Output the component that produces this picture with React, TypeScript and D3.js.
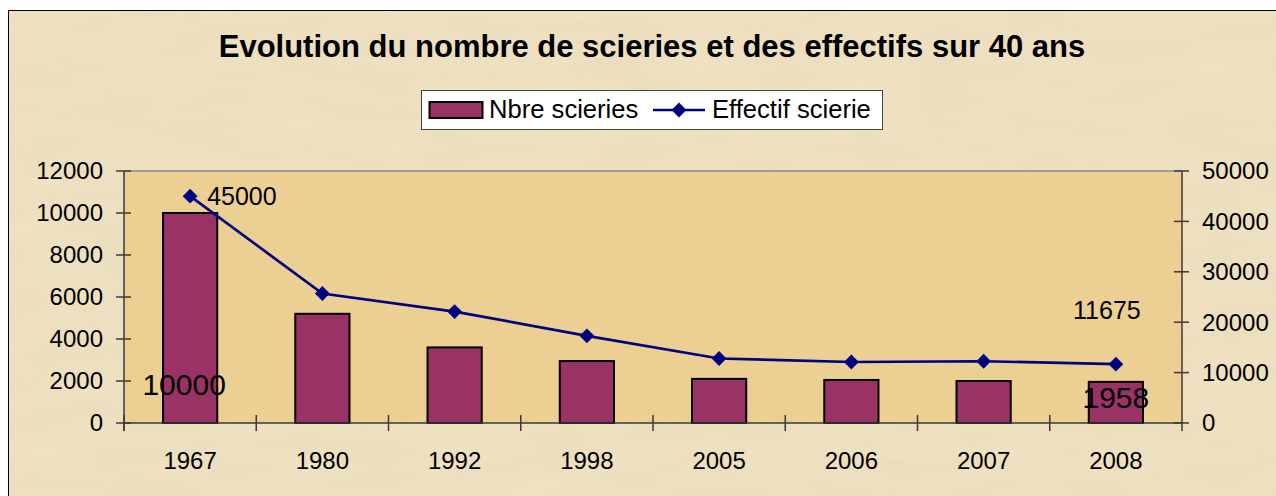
import { scaleLinear, scaleBand, line, symbol, symbolSquare } from 'd3'

const YEARS = ['1967', '1980', '1992', '1998', '2005', '2006', '2007', '2008']
const SCIERIES = [10000, 5200, 3600, 2950, 2100, 2050, 2000, 1958]
const EFFECTIF = [45000, 25700, 22100, 17300, 12800, 12100, 12250, 11675]
const LEFT_TICKS = [0, 2000, 4000, 6000, 8000, 10000, 12000]
const RIGHT_TICKS = [0, 10000, 20000, 30000, 40000, 50000]

const TITLE = 'Evolution du nombre de scieries et des effectifs sur 40 ans'
const BAR_NAME = 'Nbre scieries'
const LINE_NAME = 'Effectif scierie'

export default function App(): JSX.Element {
  const width = 1276
  const height = 496
  const plot = { left: 124, right: 1182, top: 171, bottom: 423 }
  const font = 'Arial, "Liberation Sans", sans-serif'
  const axisColor = '#3a3a3a'

  const xScale = scaleBand()
    .domain(YEARS)
    .range([plot.left, plot.right])

  const barWidth = xScale.bandwidth() * 0.41

  const yLeft = scaleLinear().domain([0, 12000]).range([plot.bottom, plot.top])
  const yRight = scaleLinear().domain([0, 50000]).range([plot.bottom, plot.top])

  const cx = (d: string) => xScale(d)! + xScale.bandwidth() / 2

  const linePath = line<number>()
    .x((_, i) => cx(YEARS[i]))
    .y((d) => yRight(d))(EFFECTIF)

  // square turned 45° -> diamond like Excel's marker
  const diamond = symbol().type(symbolSquare).size(110)()

  const last = YEARS.length - 1

  return (
    <svg
      width={width}
      height={height}
      style={{ position: 'absolute', left: 0, top: 0 }}
      fontFamily={font}
    >
      <defs>
        <filter id='paper' x='0' y='0' width='100%' height='100%'>
          <feTurbulence type='fractalNoise' baseFrequency='0.012 0.05' numOctaves={3} seed={4} />
          <feColorMatrix
            type='matrix'
            values='0 0 0 0 0.55  0 0 0 0 0.45  0 0 0 0 0.25  0 0 0 0.35 0'
          />
        </filter>
        <filter id='paper2' x='0' y='0' width='100%' height='100%'>
          <feTurbulence type='fractalNoise' baseFrequency='0.08 0.008' numOctaves={2} seed={9} />
          <feColorMatrix
            type='matrix'
            values='0 0 0 0 0.6  0 0 0 0 0.5  0 0 0 0 0.3  0 0 0 0.3 0'
          />
        </filter>
      </defs>

      {/* background */}
      <rect width={width} height={height} fill='#ffffff' />
      <rect x={8} y={10} width={width} height={height} fill='#f0e3c4' />
      <rect x={8} y={10} width={width} height={height} filter='url(#paper)' opacity={0.4} />
      <rect x={8.5} y={10.5} width={width} height={height} fill='none' stroke='#000' strokeWidth={1} />

      {/* title */}
      <text x={652} y={57} textAnchor='middle' fontSize={31} fontWeight='bold' fill='#000'>
        {TITLE}
      </text>

      {/* legend */}
      <g>
        <rect x={421.5} y={90.5} width={461} height={39} fill='#fff' stroke='#444' strokeWidth={1} />
        <rect x={429.5} y={102} width={53} height={16} fill='#993366' stroke='#000' strokeWidth={2} />
        <text x={489} y={118} fontSize={25.6} fill='#000'>{BAR_NAME}</text>
        <line x1={653} x2={705} y1={110} y2={110} stroke='#000080' strokeWidth={2.5} />
        <path d={diamond} transform='translate(679,110) rotate(45)' fill='#000080' />
        <text x={712} y={118} fontSize={25.6} fill='#000'>{LINE_NAME}</text>
      </g>

      {/* plot area */}
      <rect
        x={plot.left}
        y={plot.top}
        width={plot.right - plot.left}
        height={plot.bottom - plot.top}
        fill='#eed193'
      />
      <rect
        x={plot.left}
        y={plot.top}
        width={plot.right - plot.left}
        height={plot.bottom - plot.top}
        filter='url(#paper2)'
        opacity={0.45}
      />
      <line x1={plot.left} x2={plot.right} y1={plot.top} y2={plot.top} stroke='#888' strokeWidth={1.5} />

      {/* bars */}
      {SCIERIES.map((v, i) => (
        <rect
          key={YEARS[i]}
          x={cx(YEARS[i]) - barWidth / 2}
          y={yLeft(v)}
          width={barWidth}
          height={plot.bottom - yLeft(v)}
          fill='#993366'
          stroke='#000'
          strokeWidth={2}
        />
      ))}

      {/* left axis */}
      <line x1={plot.left} x2={plot.left} y1={plot.top} y2={plot.bottom + 8} stroke={axisColor} strokeWidth={1.5} />
      {LEFT_TICKS.map((t) => (
        <g key={t} transform={`translate(0, ${yLeft(t)})`}>
          <line x1={plot.left - 8} x2={plot.left + 7} stroke={axisColor} strokeWidth={1.5} />
          <text x={103} dy='0.35em' textAnchor='end' fontSize={24} fill='#000'>
            {t}
          </text>
        </g>
      ))}

      {/* right axis */}
      <line x1={plot.right} x2={plot.right} y1={plot.top} y2={plot.bottom + 8} stroke={axisColor} strokeWidth={1.5} />
      {RIGHT_TICKS.map((t) => (
        <g key={t} transform={`translate(0, ${yRight(t)})`}>
          <line x1={plot.right - 8} x2={plot.right + 7} stroke={axisColor} strokeWidth={1.5} />
          <text x={1202} dy='0.35em' textAnchor='start' fontSize={24} fill='#000'>
            {t}
          </text>
        </g>
      ))}

      {/* x axis */}
      <line x1={plot.left} x2={plot.right} y1={plot.bottom} y2={plot.bottom} stroke={axisColor} strokeWidth={1.5} />
      {YEARS.map((d) => (
        <g key={d}>
          <line
            x1={xScale(d)!}
            x2={xScale(d)!}
            y1={plot.bottom - 8}
            y2={plot.bottom + 8}
            stroke={axisColor}
            strokeWidth={1.5}
          />
          <text x={cx(d)} y={469} textAnchor='middle' fontSize={24} fill='#000'>
            {d}
          </text>
        </g>
      ))}

      {/* line series */}
      <path d={linePath ?? ''} fill='none' stroke='#000080' strokeWidth={2.7} />
      {EFFECTIF.map((v, i) => (
        <path
          key={YEARS[i]}
          d={diamond}
          transform={`translate(${cx(YEARS[i])}, ${yRight(v)}) rotate(45)`}
          fill='#000080'
        />
      ))}

      {/* data labels (first and last only) */}
      <text x={cx(YEARS[0]) + 17} y={yRight(EFFECTIF[0]) + 9} fontSize={25} fill='#000'>
        {EFFECTIF[0]}
      </text>
      <text x={cx(YEARS[last]) - 9} y={yRight(EFFECTIF[last]) - 45} textAnchor='middle' fontSize={25} fill='#000'>
        {EFFECTIF[last]}
      </text>
      <text x={cx(YEARS[0]) - 6} y={395} textAnchor='middle' fontSize={30} fill='#000'>
        {SCIERIES[0]}
      </text>
      <text x={cx(YEARS[last])} y={408} textAnchor='middle' fontSize={30} fill='#000'>
        {SCIERIES[last]}
      </text>
    </svg>
  )
}
